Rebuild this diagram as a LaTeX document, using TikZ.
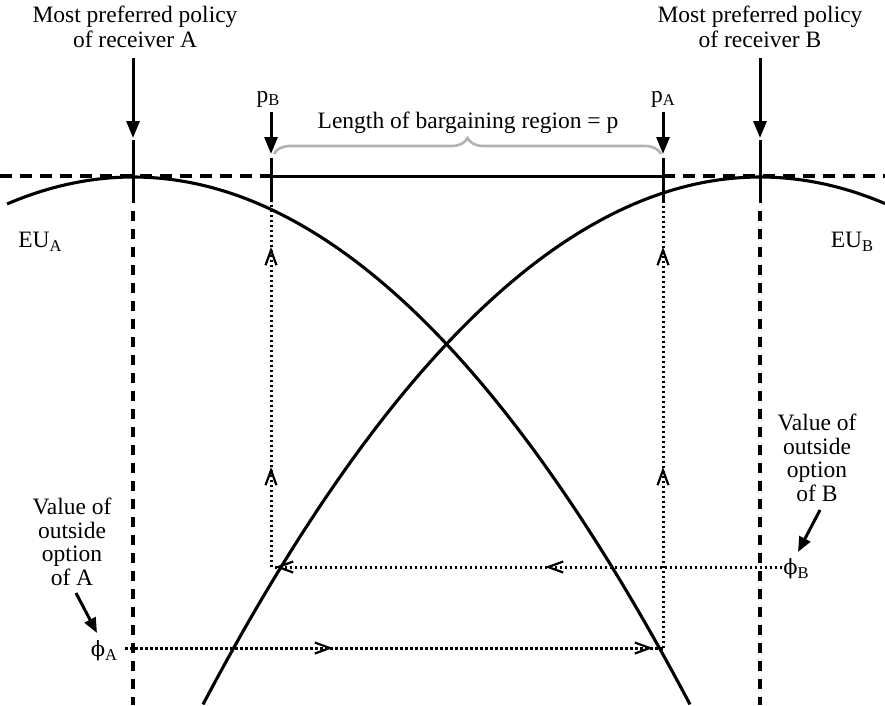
\documentclass[tikz,border=0pt]{standalone}
\usepackage{fontspec}
\setmainfont{Liberation Serif}
\newfontfamily\phifont{DejaVu Serif}
\usetikzlibrary{arrows.meta,decorations.markings,decorations.pathreplacing}
\newcommand\sbsc[1]{\raisebox{-0.35ex}{\fontsize{16.5}{16.5}\selectfont #1}}
\newcommand\phisym{{\phifont\fontsize{21}{21}\selectfont ϕ}}
\begin{document}
\begin{tikzpicture}[x=1pt,y=-1pt,
  lbl/.style={font=\fontsize{23.5}{25}\selectfont, inner sep=0pt, align=center},
  curve/.style={line width=3.1pt},
  axis/.style={line width=3pt},
  hdash/.style={line width=3.2pt, dash pattern=on 12pt off 8pt},
  vdash/.style={line width=3.2pt, dash pattern=on 10pt off 8pt},
  dotline/.style={line width=3pt, dash pattern=on 2.5pt off 2.5pt},
  bigarrow/.style={line width=3pt, -{Triangle[length=17pt,width=13pt]}},
  smallarrow/.style={line width=3pt, -{Triangle[length=15pt,width=12pt]}},
  barbtip/.tip={Straight Barb[length=15pt,width=11pt,line width=2.2pt]},
  gbrace/.style={draw=black!30, line width=2.6pt, decorate, decoration={brace, amplitude=16pt}}
]
\useasboundingbox (0,0) rectangle (885,705);

% horizontal axis
\coordinate (L) at (0,176);
\coordinate (R) at (885,176);
\coordinate (pBh) at (271,176);
\coordinate (pAh) at (663,176);
\draw[hdash] (L) -- (pBh);
\draw[axis] (pBh) -- (pAh);
\draw[hdash] (pAh) -- (R);

% vertical line A
\coordinate (At) at (133,140);
\coordinate (Am) at (133,203);
\coordinate (Ad) at (133,211);
\coordinate (Ab) at (133,705);
\draw[axis] (At) -- (Am);
\draw[vdash] (Ad) -- (Ab);

% vertical line B
\coordinate (Bt) at (760,140);
\coordinate (Bm) at (760,203);
\coordinate (Bd) at (760,211);
\coordinate (Bb) at (760,705);
\draw[axis] (Bt) -- (Bm);
\draw[vdash] (Bd) -- (Bb);

% pB and pA ticks
\coordinate (pBt) at (271,158);
\coordinate (pBm) at (271,202);
\coordinate (pBb) at (271,567);
\coordinate (pAt) at (663,158);
\coordinate (pAm) at (663,202);
\coordinate (pAb) at (663,648);
\draw[axis] (pBt) -- (pBm);
\draw[axis] (pAt) -- (pAm);

% utility curves
\draw[curve, domain=7:690, samples=120] plot (\x, {177+17*((\x-133)/100)^2});
\draw[curve, domain=203:885, samples=120] plot (\x, {177+17*((\x-760)/100)^2});

% dotted verticals with arrows
\draw[dotline, postaction={decorate}, decoration={markings,
   mark=at position 100pt with {\arrow{barbtip}},
   mark=at position 320pt with {\arrow{barbtip}}}] (pBb) -- (pBm);
\draw[dotline, postaction={decorate}, decoration={markings,
   mark=at position 181pt with {\arrow{barbtip}},
   mark=at position 401pt with {\arrow{barbtip}}}] (pAb) -- (pAm);

% outside option lines
\node[lbl] (phiB) at (796,569) {\phisym\sbsc{B}};
\node[lbl] (phiA) at (104,651) {\phisym\sbsc{A}};
\coordinate (phiBs) at (782,567);
\coordinate (phiBe) at (273,567);
\coordinate (phiAs) at (125,648);
\coordinate (phiAe) at (663,648);
\draw[dotline, postaction={decorate}, decoration={markings,
   mark=at position 237pt with {\arrow{barbtip}},
   mark=at position 507pt with {\arrow{barbtip}}}] (phiBs) -- (phiBe);
\draw[dotline, postaction={decorate}, decoration={markings,
   mark=at position 208pt with {\arrow{barbtip}},
   mark=at position 528pt with {\arrow{barbtip}}}] (phiAs) -- (phiAe);

% top labels and arrows
\node[lbl] (prefA) at (135,27) {Most preferred policy\\of receiver A};
\node[lbl] (prefB) at (760,27) {Most preferred policy\\of receiver B};
\coordinate (aA1) at (133,58);
\coordinate (aA2) at (133,138);
\coordinate (aB1) at (760,58);
\coordinate (aB2) at (760,138);
\draw[bigarrow] (aA1) -- (aA2);
\draw[bigarrow] (aB1) -- (aB2);

\node[lbl] (pB) at (268,99) {p\sbsc{B}};
\node[lbl] (pA) at (663,99) {p\sbsc{A}};
\coordinate (apB1) at (271,112);
\coordinate (apB2) at (271,154);
\coordinate (apA1) at (663,112);
\coordinate (apA2) at (663,154);
\draw[bigarrow] (apB1) -- (apB2);
\draw[bigarrow] (apA1) -- (apA2);

% brace
\coordinate (brL) at (274,154);
\coordinate (brR) at (661,154);
\draw[gbrace] (brL) -- (brR);
\node[lbl] (len) at (468,123) {Length of bargaining region = p};

% EU labels
\node[lbl] (EUA) at (40,242) {EU\sbsc{A}};
\node[lbl] (EUB) at (852,242) {EU\sbsc{B}};

% outside option texts
\node[lbl, font=\fontsize{23.5}{23.5}\selectfont] (valA) at (72,542) {Value of\\outside\\option\\of A};
\node[lbl, font=\fontsize{23.5}{23.5}\selectfont] (valB) at (817,458) {Value of\\outside\\option\\of B};
\coordinate (vA1) at (76,593);
\coordinate (vA2) at (97,633);
\coordinate (vB1) at (820,510);
\coordinate (vB2) at (798,552);
\draw[smallarrow] (vA1) -- (vA2);
\draw[smallarrow] (vB1) -- (vB2);
\end{tikzpicture}
\end{document}
